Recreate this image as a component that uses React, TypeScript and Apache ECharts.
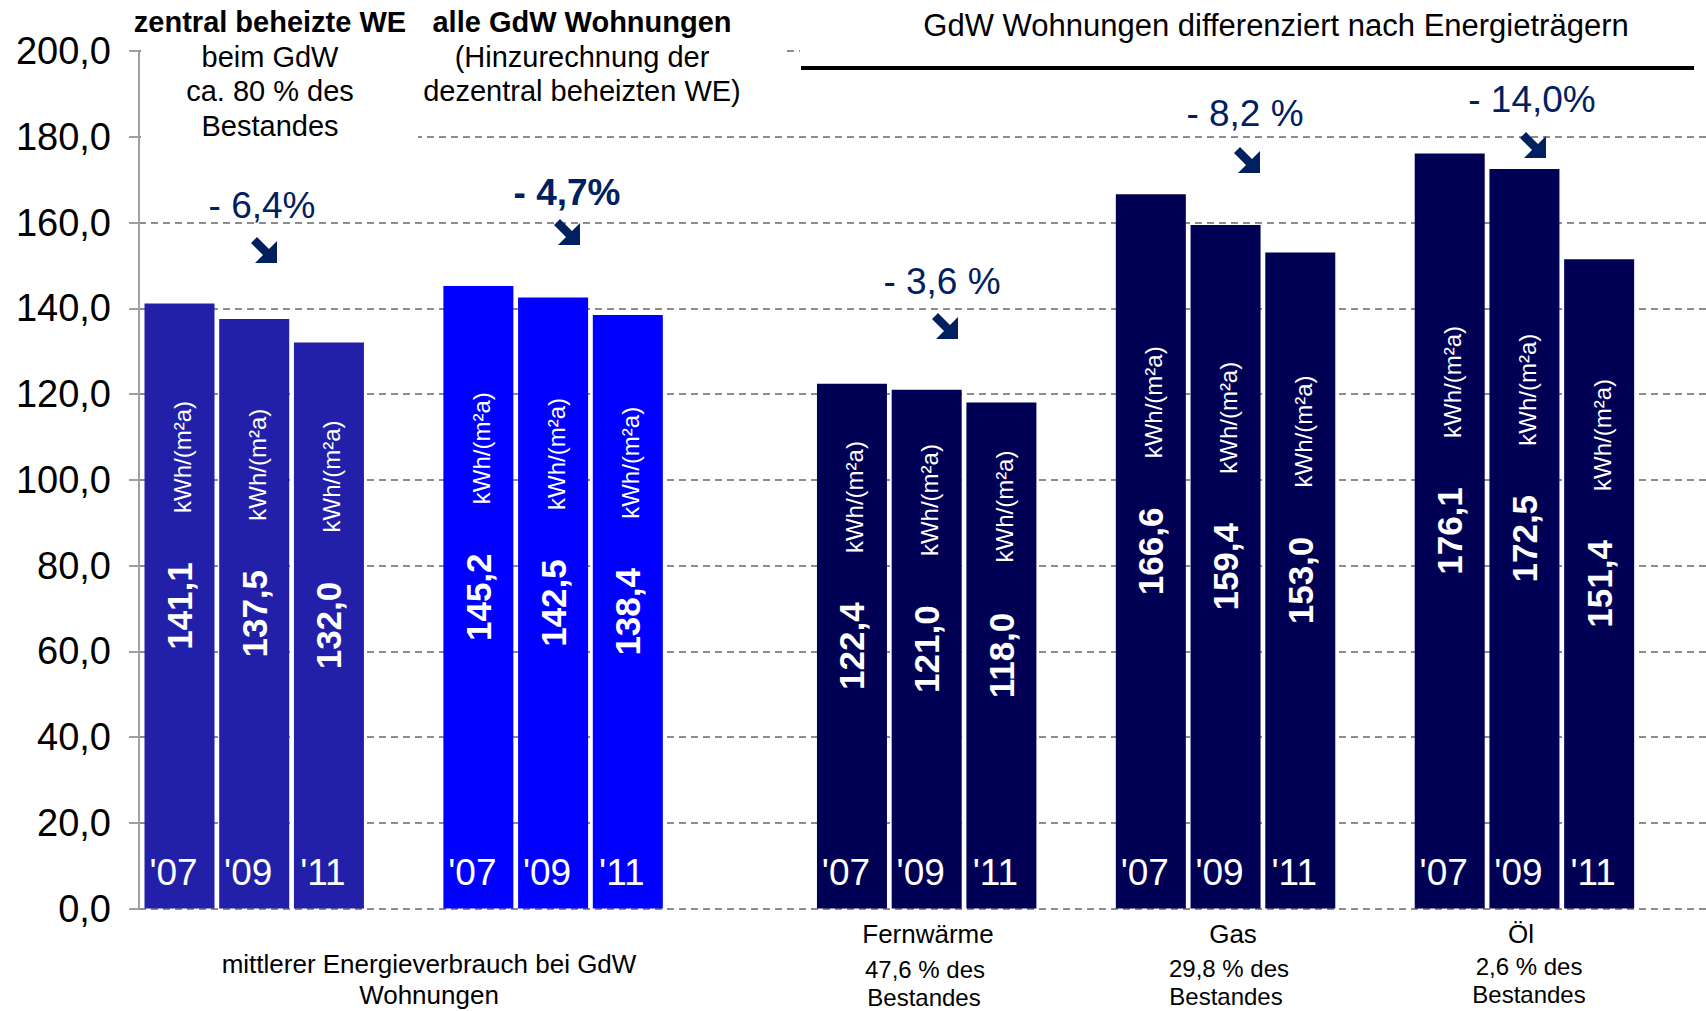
import React, { useEffect, useRef } from "react";
import * as echarts from "echarts";

// ---- data ----
const years = ["'07", "'09", "'11"];
const zentral = [141.1, 137.5, 132.0];
const alle = [145.2, 142.5, 138.4];
const fernwaerme = [122.4, 121.0, 118.0];
const gas = [166.6, 159.4, 153.0];
const oel = [176.1, 172.5, 151.4];
const changes = ["- 6,4%", "- 4,7%", "- 3,6 %", "- 8,2 %", "- 14,0%"];
const unit = "kWh/(m²a)";
const yMin = 0;
const yMax = 200;
const yStep = 20;

// ---- layout ----
const groups = [zentral, alle, fernwaerme, gas, oel];
const groupStart = [0, 4, 9, 13, 17];
const groupColors = ["#2220A8", "#0000FF", "#000055", "#000055", "#000055"];
const FONT = "'Liberation Sans', Arial, sans-serif";
const NAVY = "#002060";

const fmt = (v: number) => v.toFixed(1).replace(".", ",");

export default function App() {
  const ref = useRef<HTMLDivElement>(null);
  useEffect(() => {
    document.body.style.margin = "0";
    const chart = echarts.init(ref.current!, null, { renderer: "svg" });

    const barData: any[] = [];
    groups.forEach((g, gi) => {
      g.forEach((v, i) => {
        barData.push({
          value: [groupStart[gi] + i, v],
          year: years[i],
          itemStyle: { color: groupColors[gi] },
        });
      });
    });

    const txt = (text: string, x: number, y: number, size: number, opts: any = {}) => ({
      type: "text",
      x,
      y,
      z: 20,
      style: {
        text,
        fontSize: size,
        fontFamily: FONT,
        fontWeight: opts.bold ? "bold" : "normal",
        fill: opts.color || "#000",
        align: "center",
        verticalAlign: "middle",
      },
    });

    const arrowPts = [
      [0, 6],
      [6, 0],
      [18, 12],
      [26, 4],
      [26, 26],
      [4, 26],
      [12, 18],
    ];
    const arrow = (cx: number, cy: number) => ({
      type: "polygon",
      x: cx - 13,
      y: cy - 13,
      z: 20,
      shape: { points: arrowPts },
      style: { fill: NAVY },
    });

    const pctPos = [
      [262, 205, false],
      [567, 192, true],
      [942, 281, false],
      [1245, 113, false],
      [1532, 99, false],
    ];
    const arrowPos = [
      [264, 250],
      [567, 232],
      [945, 326],
      [1247, 160],
      [1533, 145],
    ];

    const graphics: any[] = [
      // covers over hidden grid lines
      { type: "rect", z: 10, shape: { x: 141, y: 42, width: 645, height: 18 }, style: { fill: "#fff" } },
      { type: "rect", z: 10, shape: { x: 800, y: 42, width: 906, height: 18 }, style: { fill: "#fff" } },
      { type: "rect", z: 10, shape: { x: 141, y: 128, width: 277, height: 16 }, style: { fill: "#fff" } },
      // title rule
      { type: "rect", z: 20, shape: { x: 801, y: 66, width: 893, height: 4 }, style: { fill: "#000" } },
      txt("zentral beheizte WE", 270, 22, 29, { bold: true }),
      txt("beim GdW", 270, 57, 29),
      txt("ca. 80 % des", 270, 91, 29),
      txt("Bestandes", 270, 126, 29),
      txt("alle GdW Wohnungen", 582, 22, 29, { bold: true }),
      txt("(Hinzurechnung der", 582, 57, 29),
      txt("dezentral beheizten WE)", 582, 91, 29),
      txt("GdW Wohnungen differenziert nach Energieträgern", 1276, 25, 31),
      txt("mittlerer Energieverbrauch bei GdW", 429, 964, 26),
      txt("Wohnungen", 429, 995, 26),
      txt("Fernwärme", 928, 934, 26),
      txt("47,6 % des", 925, 969, 24),
      txt("Bestandes", 924, 997, 24),
      txt("Gas", 1233, 934, 26),
      txt("29,8 % des", 1229, 968, 24),
      txt("Bestandes", 1226, 996, 24),
      txt("Öl", 1521, 934, 26),
      txt("2,6 % des", 1529, 966, 24),
      txt("Bestandes", 1529, 994, 24),
    ];
    changes.forEach((c, i) => {
      const p = pctPos[i];
      graphics.push(txt(c, p[0] as number, p[1] as number, 37, { bold: p[2], color: NAVY }));
      graphics.push(arrow(arrowPos[i][0], arrowPos[i][1]));
    });

    chart.setOption({
      animation: false,
      grid: { left: 139, right: 0, top: 51, bottom: 102.5, containLabel: false },
      xAxis: {
        type: "value",
        min: -0.542,
        max: 20.43,
        show: false,
      },
      yAxis: {
        type: "value",
        min: yMin,
        max: yMax,
        interval: yStep,
        axisLine: { show: true, onZero: false, lineStyle: { color: "#a0a0a0", width: 2 } },
        axisTick: { show: true, length: 10, lineStyle: { color: "#a0a0a0", width: 2 } },
        axisLabel: {
          formatter: (v: number) => fmt(v),
          fontSize: 38,
          fontFamily: FONT,
          color: "#000",
          margin: 28,
        },
        splitLine: { show: true, lineStyle: { color: "#8c8c8c", width: 2, type: [7, 5] } },
      },
      series: [
        {
          type: "bar",
          barWidth: 70,
          data: barData,
          label: {
            show: true,
            position: "inside",
            rotate: 90,
            formatter: (p: any) => fmt(p.value[1]),
            fontSize: 35,
            fontWeight: "bold",
            fontFamily: FONT,
            color: "#fff",
          },
        },
        {
          type: "bar",
          barWidth: 70,
          barGap: "-100%",
          data: barData.map((d) => ({ value: d.value })),
          itemStyle: { color: "rgba(0,0,0,0)" },
          silent: true,
          label: {
            show: true,
            position: "inside",
            rotate: 90,
            offset: [149, 3],
            formatter: unit,
            fontSize: 24,
            fontFamily: FONT,
            color: "#fff",
          },
        },
        {
          type: "bar",
          barWidth: 70,
          barGap: "-100%",
          data: barData.map((d) => ({ value: d.value, year: d.year })),
          itemStyle: { color: "rgba(0,0,0,0)" },
          silent: true,
          label: {
            show: true,
            position: "insideBottom",
            distance: 18,
            offset: [-6, 0],
            formatter: (p: any) => p.data.year,
            fontSize: 37,
            fontFamily: FONT,
            color: "#fff",
          },
        },
      ],
      graphic: graphics,
    });
    return () => chart.dispose();
  }, []);
  return <div ref={ref} style={{ width: 1706, height: 1011 }} />;
}
